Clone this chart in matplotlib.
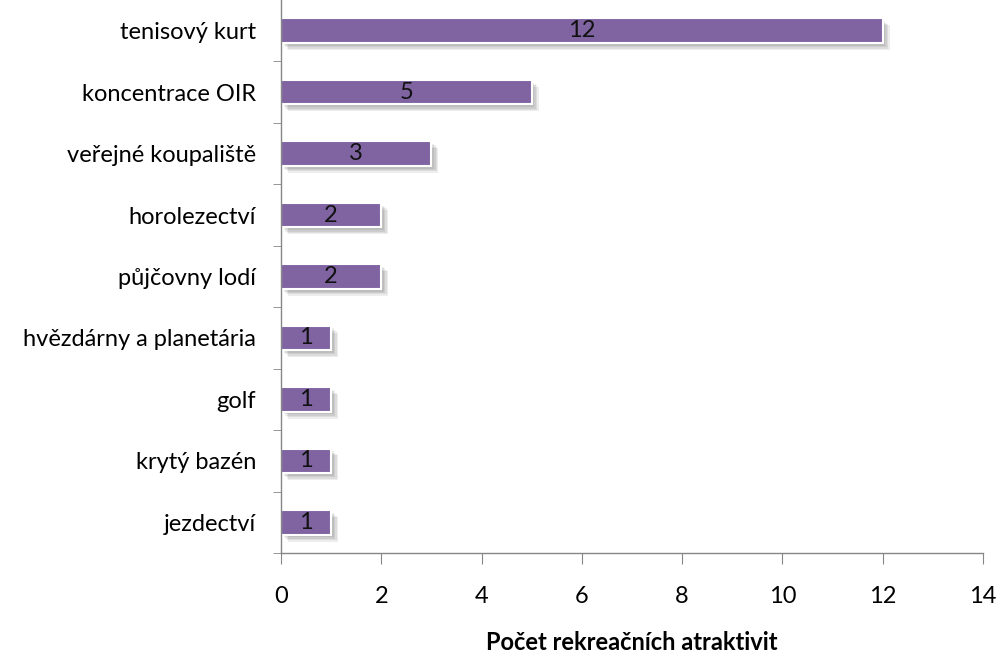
import matplotlib
matplotlib.use("Agg")
import matplotlib.pyplot as plt
from matplotlib import patheffects as pe

categories = ["tenisový kurt", "koncentrace OIR", "veřejné koupaliště", "horolezectví",
              "půjčovny lodí", "hvězdárny a planetária", "golf", "krytý bazén", "jezdectví"]
values = [12, 5, 3, 2, 2, 1, 1, 1, 1]
xticks = [0, 2, 4, 6, 8, 10, 12, 14]
xlabel = "Počet rekreačních atraktivit"

plt.rcParams['font.family'] = ['Lato', 'DejaVu Sans']

fig = plt.figure(figsize=(10, 6.59), dpi=100)
ax = fig.add_axes([0.281, 1 - 553 / 659, 0.983 - 0.281, 553 / 659])

n = len(categories)
ypos = list(range(n))[::-1]
bars = ax.barh(ypos, values, height=0.4, color="#8064A2", edgecolor="white", linewidth=1.5)
shadow = [pe.SimplePatchShadow(offset=(o, -o), shadow_rgbFace="#000000", alpha=0.07)
          for o in (5, 4, 3, 2)]
for b in bars:
    b.set_path_effects(shadow + [pe.Normal()])

for y, v in zip(ypos, values):
    ax.text(v / 2, y, str(v), ha="center", va="center", fontsize=17, color="#111111")

ax.set_xlim(0, 14)
ax.set_ylim(-0.5, n - 0.5)
ax.set_xticks(xticks)
ax.set_xticklabels([str(t) for t in xticks], fontsize=17)
ax.set_yticks(ypos)
ax.set_yticklabels(categories, fontsize=17)
ax.set_yticks([i - 0.5 for i in range(n)], minor=True)
ax.tick_params(axis="y", which="major", length=0, pad=18)
ax.tick_params(axis="y", which="minor", length=6, color="#868686")
ax.tick_params(axis="x", which="major", length=8, color="#868686", pad=16, direction="out")

for s in ["top", "right"]:
    ax.spines[s].set_visible(False)
for s in ["left", "bottom"]:
    ax.spines[s].set_color("#868686")
    ax.spines[s].set_linewidth(1)

ax.set_xlabel(xlabel, fontsize=17, fontweight="bold", labelpad=17)

fig.savefig("out.png", dpi=100)
